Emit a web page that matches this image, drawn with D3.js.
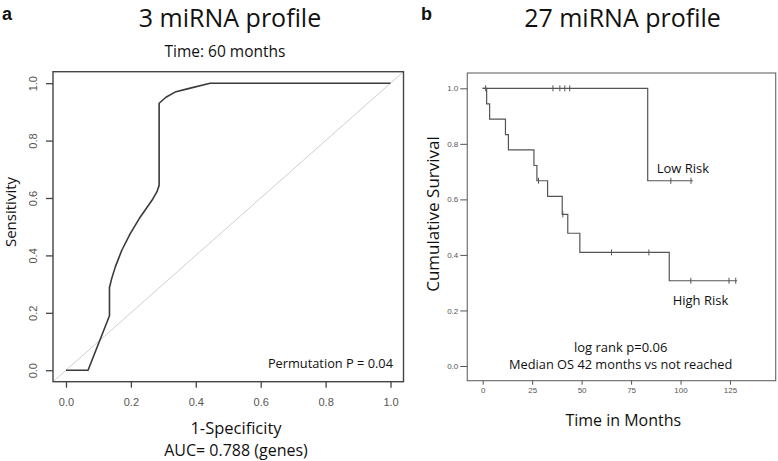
<!DOCTYPE html>
<html>
<head>
<meta charset="utf-8">
<script src="https://cdn.jsdelivr.net/npm/d3@7"></script>
<style>
  html, body { margin: 0; padding: 0; background: #fff; }
  svg { display: block; }
</style>
</head>
<body>
<svg id="chart" width="778" height="461"></svg>
<script>
// ---------- Data ----------
// Panel a: ROC curve (1-Specificity vs Sensitivity)
const rocFpr  = [0, 0.068, 0.134, 0.134, 0.141, 0.152, 0.172, 0.198, 0.229, 0.265, 0.280, 0.287, 0.287, 0.308, 0.336, 0.377, 0.444, 1.0];
const rocSens = [0, 0, 0.190, 0.288, 0.32, 0.36, 0.418, 0.476, 0.534, 0.592, 0.621, 0.644, 0.930, 0.951, 0.969, 0.981, 1.0, 1.0];
const rocTicks = [0.0, 0.2, 0.4, 0.6, 0.8, 1.0];

// Panel b: Kaplan-Meier curves
const highTimes = [0, 2, 3.5, 11.5, 13, 25.9, 27.4, 32.8, 40.2, 43.0, 49.1, 94.3, 128.6];
const highSurv  = [1, 0.944, 0.889, 0.833, 0.778, 0.722, 0.667, 0.611, 0.546, 0.478, 0.409, 0.307, 0.307];
const highCensor = [28.2, 40.5, 65.1, 84.0, 105.2, 124.5, 127.9];
const lowTimes = [0, 83.4, 106.2];
const lowSurv  = [1, 0.667, 0.667];
const lowCensor = [1.5, 35.5, 39.0, 41.5, 44.0, 95.1, 105.3];
const kmXTicks = [0, 25, 50, 75, 100, 125];
const kmYTicks = [0.0, 0.2, 0.4, 0.6, 0.8, 1.0];

// ---------- Setup ----------
const svg = d3.select("#chart");
const titleFont = "'Open Sans', 'Noto Sans', sans-serif";
const tickFont = "'Liberation Sans', Arial, sans-serif";

// ================= Panel a =================
const ax = d3.scaleLinear().domain([-0.04, 1.04]).range([53, 403.5]);
const ay = d3.scaleLinear().domain([-0.04, 1.04]).range([381.7, 71.7]);

const ga = svg.append("g");

// diagonal reference line (spans the plot region)
ga.append("line")
  .attr("x1", ax(-0.04)).attr("y1", ay(-0.04))
  .attr("x2", ax(1.04)).attr("y2", ay(1.04))
  .attr("stroke", "#cfcfcf").attr("stroke-width", 1);

// ROC curve
const rocLine = d3.line().x((d, i) => ax(rocFpr[i])).y((d, i) => ay(rocSens[i]));
ga.append("path")
  .datum(rocFpr)
  .attr("d", rocLine)
  .attr("fill", "none")
  .attr("stroke", "#3a3a3a")
  .attr("stroke-width", 1.6)
  .attr("stroke-linejoin", "round");

// box
ga.append("rect")
  .attr("x", ax(-0.04)).attr("y", ay(1.04))
  .attr("width", ax(1.04) - ax(-0.04)).attr("height", ay(-0.04) - ay(1.04))
  .attr("fill", "none").attr("stroke", "#444").attr("stroke-width", 1.4);

// x axis
const axA = ga.append("g")
  .attr("transform", `translate(0,${ay(-0.04)})`)
  .call(d3.axisBottom(ax).tickValues(rocTicks).tickFormat(d3.format(".1f")).tickSize(6).tickPadding(11));
axA.select(".domain").remove();
axA.selectAll("line").attr("stroke", "#444").attr("stroke-width", 1.3);
axA.selectAll("text").attr("font-family", tickFont).attr("font-size", 11).attr("fill", "#555");

// y axis (rotated labels, R style)
const ayA = ga.append("g")
  .attr("transform", `translate(${ax(-0.04)},0)`)
  .call(d3.axisLeft(ay).tickValues(rocTicks).tickFormat(d3.format(".1f")).tickSize(7).tickPadding(0));
ayA.select(".domain").remove();
ayA.selectAll("line").attr("stroke", "#444").attr("stroke-width", 1.3);
ayA.selectAll("text")
  .attr("font-family", tickFont).attr("font-size", 11).attr("fill", "#555")
  .attr("x", null).attr("dy", null)
  .attr("text-anchor", "middle")
  .attr("transform", "translate(-20,0) rotate(-90)")
  .attr("dy", "0.35em");

// texts panel a
svg.append("text").text("a")
  .attr("x", 2).attr("y", 20)
  .attr("font-family", tickFont).attr("font-weight", "bold").attr("font-size", 18).attr("fill", "#111");
svg.append("text").text("3 miRNA profile")
  .attr("x", 230).attr("y", 26.8).attr("text-anchor", "middle")
  .attr("font-family", titleFont).attr("font-size", 25).attr("fill", "#111");
svg.append("text").text("Time: 60 months")
  .attr("x", 225).attr("y", 57).attr("text-anchor", "middle")
  .attr("font-family", titleFont).attr("font-size", 15.5).attr("fill", "#111");
svg.append("text").text("Sensitivity")
  .attr("transform", "translate(16.3,212) rotate(-90)").attr("text-anchor", "middle")
  .attr("font-family", titleFont).attr("font-size", 15).attr("fill", "#111");
svg.append("text").text("1-Specificity")
  .attr("x", 236).attr("y", 434).attr("text-anchor", "middle")
  .attr("font-family", titleFont).attr("font-size", 16.5).attr("fill", "#111");
svg.append("text").text("AUC= 0.788 (genes)")
  .attr("x", 236).attr("y", 455.5).attr("text-anchor", "middle")
  .attr("font-family", titleFont).attr("font-size", 16).attr("fill", "#111");
svg.append("text").text("Permutation P = 0.04")
  .attr("x", 393).attr("y", 367.5).attr("text-anchor", "end")
  .attr("font-family", titleFont).attr("font-size", 12.8).attr("fill", "#111");

// ================= Panel b =================
const bx = d3.scaleLinear().domain([0, 125]).range([482.7, 730]);
const by = d3.scaleLinear().domain([0, 1]).range([366, 88.3]);
const boxB = { x0: bx(-7.8), x1: bx(148.1), y0: 73, y1: 380.7 };

const gb = svg.append("g");

gb.append("rect")
  .attr("x", boxB.x0).attr("y", boxB.y0)
  .attr("width", boxB.x1 - boxB.x0).attr("height", boxB.y1 - boxB.y0)
  .attr("fill", "none").attr("stroke", "#666").attr("stroke-width", 1.1);

const stepLine = d3.line().curve(d3.curveStepAfter);

function kmPath(times, surv) {
  return stepLine(times.map((t, i) => [bx(t), by(surv[i])]));
}
function survAt(times, surv, t) {
  let s = surv[0];
  for (let i = 0; i < times.length; i++) { if (times[i] <= t) s = surv[i]; }
  return s;
}

[[highTimes, highSurv, highCensor], [lowTimes, lowSurv, lowCensor]].forEach(([t, s, c]) => {
  gb.append("path")
    .attr("d", kmPath(t, s))
    .attr("fill", "none").attr("stroke", "#555").attr("stroke-width", 1.2);
  gb.selectAll(null).data(c).enter().append("line")
    .attr("x1", d => bx(d)).attr("x2", d => bx(d))
    .attr("y1", d => by(survAt(t, s, d)) - 3)
    .attr("y2", d => by(survAt(t, s, d)) + 3)
    .attr("stroke", "#555").attr("stroke-width", 1);
});

// x axis b
const axB = gb.append("g")
  .attr("transform", `translate(0,${boxB.y1})`)
  .call(d3.axisBottom(bx).tickValues(kmXTicks).tickSize(4).tickPadding(3));
axB.select(".domain").remove();
axB.selectAll("line").attr("stroke", "#555");
axB.selectAll("text").attr("font-family", tickFont).attr("font-size", 8).attr("fill", "#555");

// y axis b
const ayB = gb.append("g")
  .attr("transform", `translate(${boxB.x0},0)`)
  .call(d3.axisLeft(by).tickValues(kmYTicks).tickFormat(d3.format(".1f")).tickSize(7).tickPadding(2));
ayB.select(".domain").remove();
ayB.selectAll("line").attr("stroke", "#555");
ayB.selectAll("text").attr("font-family", tickFont).attr("font-size", 8).attr("fill", "#555");

// texts panel b
svg.append("text").text("b")
  .attr("x", 421).attr("y", 20)
  .attr("font-family", tickFont).attr("font-weight", "bold").attr("font-size", 18).attr("fill", "#111");
svg.append("text").text("27 miRNA profile")
  .attr("x", 622.5).attr("y", 26.8).attr("text-anchor", "middle")
  .attr("font-family", titleFont).attr("font-size", 25).attr("fill", "#111");
svg.append("text").text("Cumulative Survival")
  .attr("transform", "translate(439,214) rotate(-90)").attr("text-anchor", "middle")
  .attr("font-family", titleFont).attr("font-size", 17).attr("fill", "#111");
svg.append("text").text("Time in Months")
  .attr("x", 623.3).attr("y", 426).attr("text-anchor", "middle")
  .attr("font-family", titleFont).attr("font-size", 16).attr("fill", "#111");
svg.append("text").text("Low Risk")
  .attr("x", 656.7).attr("y", 172.5)
  .attr("font-family", titleFont).attr("font-size", 13).attr("fill", "#111");
svg.append("text").text("High Risk")
  .attr("x", 672.7).attr("y", 305)
  .attr("font-family", titleFont).attr("font-size", 13).attr("fill", "#111");
svg.append("text").text("log rank p=0.06")
  .attr("x", 620.7).attr("y", 351.5).attr("text-anchor", "middle")
  .attr("font-family", titleFont).attr("font-size", 13).attr("fill", "#111");
svg.append("text").text("Median OS 42 months vs not reached")
  .attr("x", 620.7).attr("y", 368.5).attr("text-anchor", "middle")
  .attr("font-family", titleFont).attr("font-size", 12.8).attr("fill", "#111");
</script>
</body>
</html>
